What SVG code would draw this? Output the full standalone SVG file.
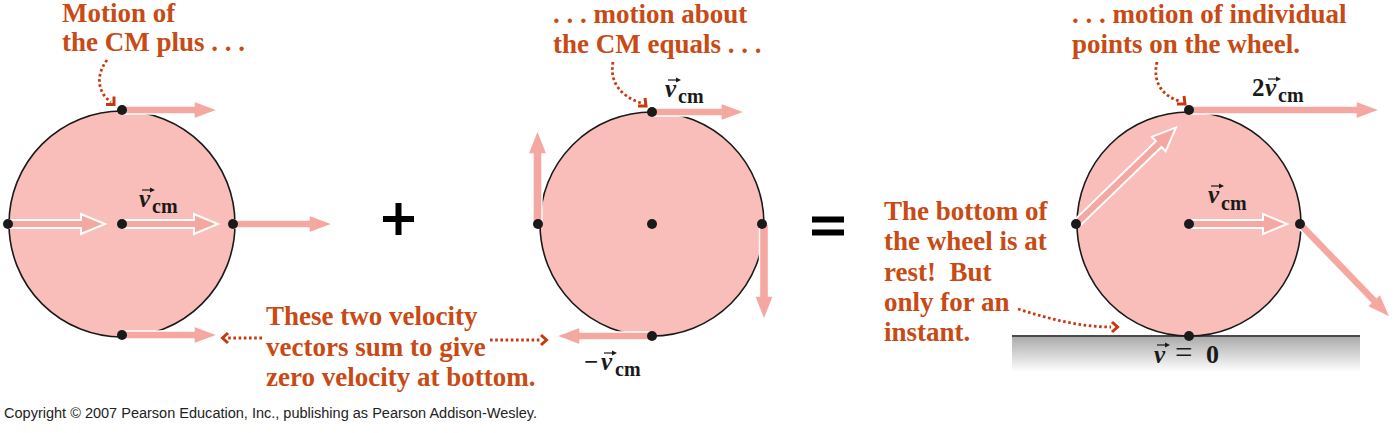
<svg xmlns="http://www.w3.org/2000/svg" width="1400" height="433" viewBox="0 0 1400 433">
<style>
.wheel{fill:#F9BEB9;stroke:#1a1a1a;stroke-width:1.6}
.dot{fill:#1a1a1a}
.vel{fill:#F5A8A1;stroke:#ffffff;stroke-width:1.4}
.open{fill:#F5A8A1;stroke:#ffffff;stroke-width:2}
.lbl{font-family:"Liberation Serif","Times New Roman",serif;font-weight:bold;font-size:27px;fill:#C84A14}
.sym{font-family:"Liberation Serif","Times New Roman",serif;font-weight:bold;fill:#1a1a1a}
.v{font-style:italic;font-size:25px}
.sub{font-size:20px}
.vec{stroke:#1a1a1a;stroke-width:1.2;fill:none}
.vech{fill:#1a1a1a}
.dotted{fill:none;stroke:#C8380F;stroke-width:2.8;stroke-dasharray:2.6 2.6}
.chev{fill:none;stroke:#C8380F;stroke-width:3}
.op{fill:#000}
.copy{font-family:"Liberation Sans",Arial,sans-serif;font-size:14px;fill:#222}
</style>
<defs>
<linearGradient id="ground" x1="0" y1="0" x2="0" y2="1">
<stop offset="0" stop-color="#A9A9A9"/>
<stop offset="1" stop-color="#ffffff"/>
</linearGradient>
</defs>
<rect width="1400" height="433" fill="#ffffff"/>

<g id="wheel-cm">
<circle class="wheel" cx="122" cy="224" r="113"/>
<polygon class="vel" points="122,106 194,106 194,101 218,110 194,119 194,114 122,114"/>
<polygon class="vel" points="233,220 309,220 309,215 333,224 309,233 309,228 233,228"/>
<polygon class="vel" points="122,331 194,331 194,326 218,335 194,344 194,339 122,339"/>
<polygon class="open" points="122,220 194,220 194,214 218,224 194,234 194,228 122,228"/>
<polygon class="open" points="8,220 81,220 81,214 105,224 81,234 81,228 8,228"/>
<circle class="dot" cx="122" cy="110" r="5"/>
<circle class="dot" cx="122" cy="224" r="5"/>
<circle class="dot" cx="122" cy="335" r="5"/>
<circle class="dot" cx="8" cy="224" r="5"/>
<circle class="dot" cx="233" cy="224" r="5"/>
<text class="sym" x="139" y="207"><tspan class="v">v</tspan><tspan class="sub" x="152" y="213">cm</tspan></text>
<path class="vec" d="M142,190 H152"/><polygon class="vech" points="155,190 150,187.5 150,192.5"/>
</g>

<g id="plus"><rect class="op" x="383" y="216" width="31" height="6"/><rect class="op" x="395.5" y="203" width="6" height="32"/></g>

<g id="wheel-rot">
<circle class="wheel" cx="652" cy="224" r="112"/>
<polygon class="vel" points="652,108 721,108 721,103 745,112 721,121 721,116 652,116"/>
<polygon class="vel" points="533,224 533,154 528,154 537.5,130 547,154 542,154 542,224"/>
<polygon class="vel" points="759.5,224 759.5,296 754.5,296 764,320 773.5,296 768.5,296 768.5,224"/>
<polygon class="vel" points="652,332 580,332 580,327 556,336 580,345 580,340 652,340"/>
<circle class="dot" cx="652" cy="112" r="5"/>
<circle class="dot" cx="652" cy="224" r="5"/>
<circle class="dot" cx="652" cy="336" r="5"/>
<circle class="dot" cx="538" cy="224" r="5"/>
<circle class="dot" cx="762" cy="224" r="5"/>
<text class="sym" x="665" y="97"><tspan class="v">v</tspan><tspan class="sub" x="678" y="103">cm</tspan></text>
<path class="vec" d="M668,80 H678"/><polygon class="vech" points="681,80 676,77.5 676,82.5"/>
<text class="sym" x="584" y="370"><tspan font-size="25">−</tspan><tspan class="v" x="601">v</tspan><tspan class="sub" x="615" y="376">cm</tspan></text>
<path class="vec" d="M604,353 H614"/><polygon class="vech" points="617,353 612,350.5 612,355.5"/>
</g>

<g id="equals"><rect class="op" x="812" y="216.5" width="32" height="6"/><rect class="op" x="812" y="229.5" width="32" height="6"/></g>

<g id="ground-surface">
<rect x="1012" y="336" width="348" height="36" fill="url(#ground)"/>
<line x1="1012" y1="336" x2="1360" y2="336" stroke="#4a4a4a" stroke-width="2"/>
<text class="sym" x="1154" y="363"><tspan class="v" font-size="26">v</tspan><tspan x="1175" font-size="31" font-weight="normal">=</tspan><tspan x="1206" font-size="26">0</tspan></text>
<path class="vec" d="M1157,345 H1167"/><polygon class="vech" points="1170,345 1165,342.5 1165,347.5"/>
</g>

<g id="wheel-rolling">
<circle class="wheel" cx="1189" cy="224" r="112"/>
<polygon class="vel" points="1189,106 1356,106 1356,101 1380,110 1356,119 1356,114 1189,114"/>
<polygon class="open" points="1189,220 1263,220 1263,214 1287,224 1263,234 1263,228 1189,228"/>
<polygon class="open" transform="translate(1076,224) rotate(-44)" points="0,-4 115,-4 115,-10 139,0 115,10 115,4 0,4"/>
<polygon class="vel" transform="translate(1300,224) rotate(46)" points="0,-4 106,-4 106,-9 130,0 106,9 106,4 0,4"/>
<circle class="dot" cx="1189" cy="110" r="5"/>
<circle class="dot" cx="1189" cy="224" r="5"/>
<circle class="dot" cx="1189" cy="336" r="5"/>
<circle class="dot" cx="1076" cy="224" r="5"/>
<circle class="dot" cx="1300" cy="224" r="5"/>
<text class="sym" x="1252" y="96"><tspan font-size="25">2</tspan><tspan class="v" x="1265">v</tspan><tspan class="sub" x="1278" y="102">cm</tspan></text>
<path class="vec" d="M1268,79 H1278"/><polygon class="vech" points="1281,79 1276,76.5 1276,81.5"/>
<text class="sym" x="1208" y="203"><tspan class="v">v</tspan><tspan class="sub" x="1221" y="210">cm</tspan></text>
<path class="vec" d="M1211,186 H1221"/><polygon class="vech" points="1224,186 1219,183.5 1219,188.5"/>
</g>

<g id="label-cm"><text class="lbl" x="62" y="22">Motion of</text><text class="lbl" x="62" y="51">the CM plus . . .</text></g>
<g id="label-about"><text class="lbl" x="553" y="23">. . . motion about</text><text class="lbl" x="553" y="53">the CM equals . . .</text></g>
<g id="label-points"><text class="lbl" x="1072" y="23">. . . motion of individual</text><text class="lbl" x="1072" y="53">points on the wheel.</text></g>
<g id="label-sum"><text class="lbl" x="266" y="325">These two velocity</text><text class="lbl" x="266" y="356">vectors sum to give</text><text class="lbl" x="266" y="386">zero velocity at bottom.</text></g>
<g id="label-rest"><text class="lbl" x="884" y="220">The bottom of</text><text class="lbl" x="884" y="250">the wheel is at</text><text class="lbl" x="884" y="281">rest!&#160; But</text><text class="lbl" x="884" y="311">only for an</text><text class="lbl" x="884" y="341">instant.</text></g>

<g id="connectors">
<path class="dotted" d="M107,60 C95,76 98,93 111,102"/>
<polyline class="chev" points="106,104.5 114,104.5 114,96.5"/>
<path class="dotted" d="M613,62 C609,84 623,97 641,103"/>
<polyline class="chev" points="638,106 646,106 645,98"/>
<path class="dotted" d="M1157,62 C1152,84 1164,96 1179,101"/>
<polyline class="chev" points="1177,104 1185,104 1184,96"/>
<path class="dotted" d="M262,338 H228"/>
<polyline class="chev" points="228,333 222.5,338 228,343"/>
<path class="dotted" d="M490,340 H541"/>
<polyline class="chev" points="541,335 546.5,340 541,345"/>
<path class="dotted" d="M1018,309 C1050,319 1080,327 1111,327"/>
<polyline class="chev" points="1112,322 1117.5,327 1112,332"/>
</g>

<text class="copy" x="4" y="418" textLength="533" lengthAdjust="spacingAndGlyphs">Copyright © 2007 Pearson Education, Inc., publishing as Pearson Addison-Wesley.</text>
</svg>
